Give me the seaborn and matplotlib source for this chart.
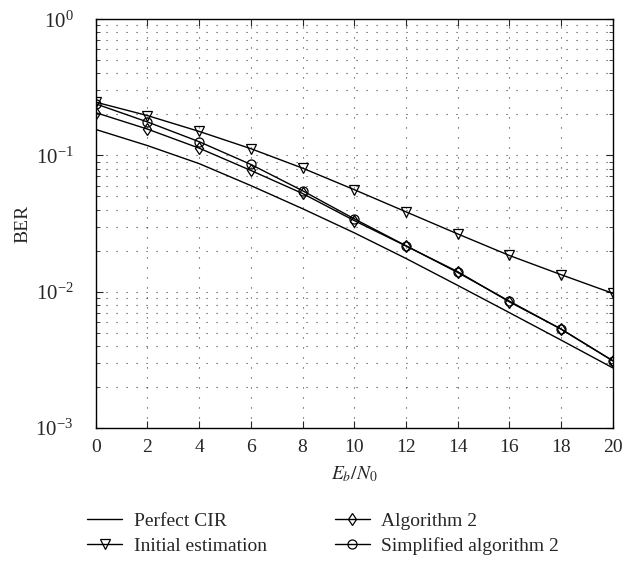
import numpy as np
import pandas as pd
import seaborn as sns
import matplotlib.pyplot as plt
from matplotlib.ticker import LogLocator, NullFormatter

# Dados
snr = [0, 2, 4, 6, 8, 10, 12, 14, 16, 18, 20]
perfect_cir = [0.155, 0.118, 0.087, 0.060, 0.0406, 0.0270, 0.0175, 0.0111, 0.0070, 0.0044, 0.00275]
initial_est = [0.246, 0.196, 0.150, 0.112, 0.0806, 0.0560, 0.0385, 0.0265, 0.0184, 0.0133, 0.0097]
algorithm2 = [0.206, 0.156, 0.113, 0.0775, 0.0525, 0.0332, 0.0216, 0.0140, 0.0084, 0.0053, 0.0031]
simplified_alg2 = [0.239, 0.176, 0.126, 0.0858, 0.0550, 0.0342, 0.0217, 0.0138, 0.0085, 0.0053, 0.0031]

series = [
    ('Perfect CIR', perfect_cir, None),
    ('Initial estimation', initial_est, 'v'),
    ('Algorithm 2', algorithm2, 'd'),
    ('Simplified algorithm 2', simplified_alg2, 'o'),
]

sns.set_theme(style='ticks')
plt.rcParams['font.family'] = ['Liberation Serif', 'DejaVu Serif']
plt.rcParams['mathtext.fontset'] = 'stix'
plt.rcParams['font.size'] = 14

fig = plt.figure(figsize=(6.36, 5.65), dpi=100)
ax = fig.add_axes([0.1505, 0.243, 0.813, 0.723])

for nome, valores, marcador in series:
    df = pd.DataFrame({'snr': snr, 'ber': valores})
    sns.lineplot(data=df, x='snr', y='ber', ax=ax, color='black', linewidth=1.0,
                 marker=marcador, markersize=6.5, markerfacecolor='none',
                 markeredgecolor='black', markeredgewidth=0.9, label=nome)

ax.set_yscale('log')
ax.set_ylim(1e-3, 1)
ax.set_xlim(0, 20)
ax.set_xticks(range(0, 21, 2))
ax.yaxis.set_major_locator(LogLocator(base=10, numticks=10))
ax.yaxis.set_minor_locator(LogLocator(base=10, subs=np.arange(2, 10), numticks=10))
ax.yaxis.set_minor_formatter(NullFormatter())

grade = dict(color='0.25', linestyle=(0, (1, 8)), linewidth=0.8)
ax.grid(True, which='major', axis='both', **grade)
ax.grid(True, which='minor', axis='y', **grade)

ax.tick_params(direction='in', top=True, right=True, length=5, width=0.8)
ax.tick_params(axis='x', labelsize=14, pad=8)
ax.tick_params(axis='y', labelsize=15, pad=16)
ax.tick_params(which='minor', direction='in', right=True, length=3, width=0.6)
for s in ax.spines.values():
    s.set_linewidth(1.0)
    s.set_color('black')

ax.set_xlabel('$E_b/N_0$', fontsize=14, labelpad=6)
ax.set_ylabel('BER', fontsize=14)
ax.yaxis.set_label_coords(-0.125, 0.5)

ax.legend(loc='upper center', bbox_to_anchor=(0.44, -0.165), ncol=2, frameon=False,
          fontsize=14, handlelength=1.8, columnspacing=3.5, labelspacing=0.35,
          handletextpad=0.6)

plt.savefig('out.png', dpi=100)
